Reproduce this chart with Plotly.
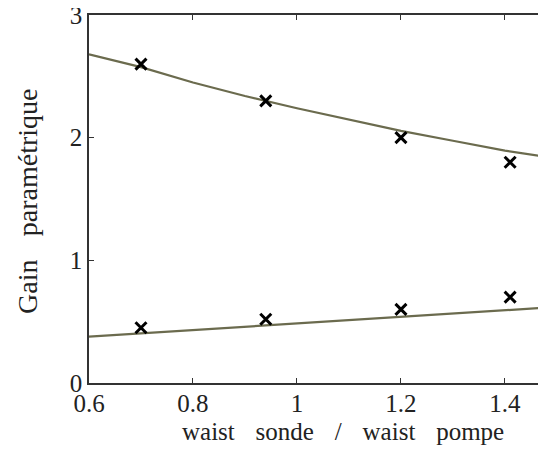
import plotly.graph_objects as go

# Measured points (crosses)
x_meas = [0.70, 0.94, 1.20, 1.41]
gain_upper_meas = [2.60, 2.30, 2.00, 1.80]
gain_lower_meas = [0.45, 0.52, 0.60, 0.70]

# Model curves
x_model = [0.6, 0.7, 0.8, 0.9, 1.0, 1.1, 1.2, 1.3, 1.4, 1.5]
gain_upper_model = [2.68, 2.575, 2.45, 2.34, 2.24, 2.145, 2.055, 1.975, 1.895, 1.83]
gain_lower_model = [0.378, 0.405, 0.432, 0.46, 0.488, 0.515, 0.54, 0.567, 0.594, 0.62]

x_ticks = [0.6, 0.8, 1.0, 1.2, 1.4]
x_tick_labels = ["0.6", "0.8", "1", "1.2", "1.4"]
y_ticks = [0, 1, 2, 3]

WS = "\u2002\u2004"  # wide word spacing as in the original rendering
x_title = WS.join(["waist", "sonde", "/", "waist", "pompe"])
y_title = WS.join(["Gain", "paramétrique"])

line_color = "#6b6b4e"
font_family = "Liberation Serif, Times New Roman, Times, serif"
text_color = "#222222"

fig = go.Figure()
for ys in (gain_upper_model, gain_lower_model):
    fig.add_trace(go.Scatter(x=x_model, y=ys, mode="lines",
                             line=dict(color=line_color, width=2.2),
                             showlegend=False, hoverinfo="skip"))
for ys in (gain_upper_meas, gain_lower_meas):
    fig.add_trace(go.Scatter(x=x_meas, y=ys, mode="markers",
                             marker=dict(symbol="x-thin", size=11,
                                         line=dict(color="black", width=3)),
                             showlegend=False))

axis_color = "#333333"
# page body has an 8px margin: figure is sized/offset to fill the 546x453 window
fig.update_layout(
    width=538, height=445,
    margin=dict(l=81, r=0, t=7, b=70, autoexpand=False),
    paper_bgcolor="white", plot_bgcolor="white",
    font=dict(family=font_family, color=text_color, size=25),
    xaxis=dict(range=[0.6, 1.479], tickvals=x_ticks, ticktext=x_tick_labels,
               ticks="inside", ticklen=5, tickcolor=axis_color,
               showline=True, linecolor=axis_color, linewidth=1.5,
               mirror="ticks", showgrid=False, zeroline=False,
               automargin=False, ticklabeloverflow="allow",
               ticklabelstandoff=-3,
               tickfont=dict(family=font_family, size=25)),
    yaxis=dict(range=[0, 3], tickvals=y_ticks,
               ticks="inside", ticklen=5, tickcolor=axis_color,
               showline=True, linecolor=axis_color, linewidth=1.5,
               mirror=False, showgrid=False, zeroline=False,
               automargin=False, ticklabeloverflow="allow",
               tickfont=dict(family=font_family, size=25)),
    annotations=[
        dict(text=x_title, xref="paper", yref="paper", x=0, y=0,
             xanchor="center", yanchor="middle", xshift=254, yshift=-48,
             showarrow=False, font=dict(family=font_family, size=25)),
        dict(text=y_title, xref="paper", yref="paper", x=0, y=0.5,
             xanchor="center", yanchor="middle", xshift=-62, yshift=-3,
             textangle=-90, showarrow=False, font=dict(family=font_family, size=28)),
    ],
)

fig.write_html("out.html")
